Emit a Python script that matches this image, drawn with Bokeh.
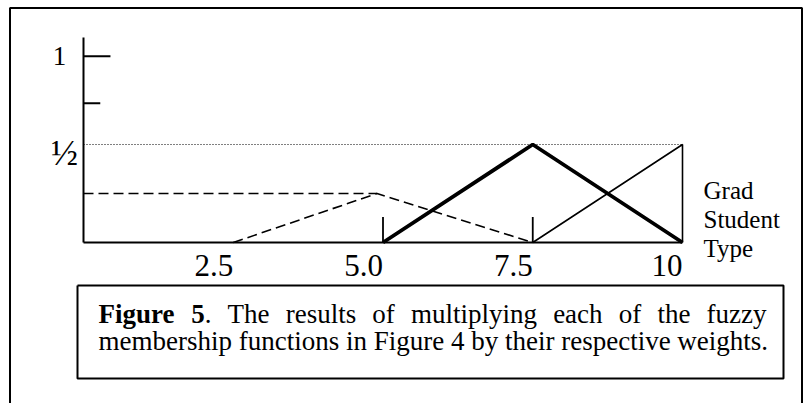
from bokeh.plotting import figure
from bokeh.models import Range1d
from bokeh.embed import file_html
from bokeh.resources import INLINE
from bokeh.core.properties import value

# ---------------- data ----------------
x_tick_values = [2.5, 5.0, 7.5, 10]
x_tick_labels = ["2.5", "5.0", "7.5", "10"]
y_tick_values = [0.95, 0.71]
y_tick_lengths = [0.45, 0.28]
y_label_values = [0.95, 0.455]
y_labels = ["1", "\u00bd"]
half_level = 0.5
low_level = 0.25
dashed_x = [2.5, 4.9, 7.5]
dashed_y = [0.0, 0.25, 0.0]
bold_x = [5.0, 7.5, 10.0]
bold_y = [0.0, 0.5, 0.0]
thin_x = [7.5, 10.0, 10.0]
thin_y = [0.0, 0.5, 0.0]
marker_x = [5.0, 7.5]
marker_h = 0.13
x_title = ["Grad", "Student", "Type"]
caption_line1 = [("Figure", True), ("5", True), (".", False), ("The", False),
                 ("results", False), ("of", False), ("multiplying", False),
                 ("each", False), ("of", False), ("the", False), ("fuzzy", False)]
caption_line2 = "membership functions in Figure 4 by their respective weights."

# ---------------- geometry ----------------
W, H = 811, 403
X0_PX, X10_PX = 83.0, 682.0
Y0_PX, YH_PX = 242.0, 144.0
sx = (X10_PX - X0_PX) / 10.0
sy = (Y0_PX - YH_PX) / 0.5
x_start = -X0_PX / sx
x_end = (W - X0_PX) / sx
y_end = Y0_PX / sy
y_start = -(H - Y0_PX) / sy


def px(c):
    return x_start + c / sx


def py(c):
    return y_end - c / sy


p = figure(width=W, height=H, output_backend="svg", toolbar_location=None,
           x_range=Range1d(x_start, x_end), y_range=Range1d(y_start, y_end),
           x_axis_type=None, y_axis_type=None, min_border=0)
p.min_border_left = p.min_border_right = p.min_border_top = p.min_border_bottom = 0
p.grid.visible = False
p.outline_line_color = None
p.background_fill_color = "white"
p.border_fill_color = "white"

FONT = value("Liberation Serif")
INK = "black"

# outer frame
p.line([px(9.5), px(9.5), px(801.5), px(801.5)], [py(430), py(7.5), py(7.5), py(430)],
       line_color=INK, line_width=2)

# axes
p.line([0, 0], [0, py(37)], line_color=INK, line_width=2)
p.line([0, 10], [0, 0], line_color=INK, line_width=2.2)
for v, L in zip(y_tick_values, y_tick_lengths):
    p.line([0, L], [v, v], line_color=INK, line_width=2)

# reference levels
p.line([0, 10], [half_level, half_level], line_color=INK, line_width=1.2, line_dash="1 2")
p.line([0, dashed_x[1]], [low_level, low_level], line_color=INK, line_width=1.6, line_dash="10 5")

# membership functions
p.line(dashed_x, dashed_y, line_color=INK, line_width=1.6, line_dash="10 5")
p.line(thin_x, thin_y, line_color=INK, line_width=1.6)
p.line(bold_x, bold_y, line_color=INK, line_width=3.8)
for mx in marker_x:
    p.line([mx, mx], [0, marker_h], line_color=INK, line_width=1.8)

# tick labels
p.text(x=x_tick_values, y=[py(265)] * 4, text=x_tick_labels, text_font=FONT,
       text_font_size=value("31px"), text_align="right", text_baseline="middle",
       text_color=INK)
p.text(x=[px(59)], y=[y_label_values[0]], text=[y_labels[0]], text_font=FONT,
       text_font_size=value("27px"), text_align="center", text_baseline="middle",
       text_color=INK)
p.text(x=[px(64)], y=[y_label_values[1]], text=[y_labels[1]], text_font=FONT,
       text_font_size=value("36px"), text_align="center", text_baseline="middle",
       text_color=INK)
p.text(x=[px(703)] * 3, y=[py(190), py(219), py(248)], text=x_title, text_font=FONT,
       text_font_size=value("25px"), text_align="left", text_baseline="middle",
       text_color=INK)

# caption box
p.line([px(77), px(783), px(783), px(77), px(77)],
       [py(285), py(285), py(378), py(378), py(285)], line_color=INK, line_width=2)

# caption text (justified first line)
WR = {' ': 250, '.': 250, '4': 500, '5': 500, 'a': 444, 'b': 500, 'c': 444, 'd': 500,
      'e': 444, 'f': 333, 'g': 500, 'h': 500, 'i': 278, 'l': 278, 'm': 778, 'n': 500,
      'o': 500, 'p': 500, 'r': 333, 's': 389, 't': 278, 'u': 500, 'v': 500, 'w': 722,
      'y': 500, 'z': 444, 'F': 556, 'T': 611}
WB = {'F': 611, 'i': 278, 'g': 500, 'u': 556, 'r': 444, 'e': 444, '5': 500}
CAP_FS = 27.0
LEFT, RIGHT = 98.0, 766.0


def width(word, bold):
    tab = WB if bold else WR
    return sum(tab.get(ch, 500) for ch in word) / 1000.0 * CAP_FS


groups = [[0], [1, 2], [3], [4], [5], [6], [7], [8], [9], [10]]
gw = [sum(width(*caption_line1[i]) for i in g) for g in groups]
gap = (RIGHT - LEFT - sum(gw)) / (len(groups) - 1)
xs_b, ts_b, xs_r, ts_r = [], [], [], []
cur = LEFT
for g, w in zip(groups, gw):
    c = cur
    for i in g:
        word, bold = caption_line1[i]
        if bold:
            xs_b.append(px(c)); ts_b.append(word)
        else:
            xs_r.append(px(c)); ts_r.append(word)
        c += width(word, bold)
    cur += w + gap

p.text(x=xs_b, y=[py(313)] * len(xs_b), text=ts_b, text_font=FONT,
       text_font_size=value("%.1fpx" % CAP_FS), text_font_style="bold",
       text_align="left", text_baseline="middle", text_color=INK)
p.text(x=xs_r, y=[py(313)] * len(xs_r), text=ts_r, text_font=FONT,
       text_font_size=value("%.1fpx" % CAP_FS), text_align="left",
       text_baseline="middle", text_color=INK)
p.text(x=[px(LEFT)], y=[py(340)], text=[caption_line2], text_font=FONT,
       text_font_size=value("%.1fpx" % CAP_FS), text_align="left",
       text_baseline="middle", text_color=INK)

open("out.html", "w").write(file_html(p, INLINE))
